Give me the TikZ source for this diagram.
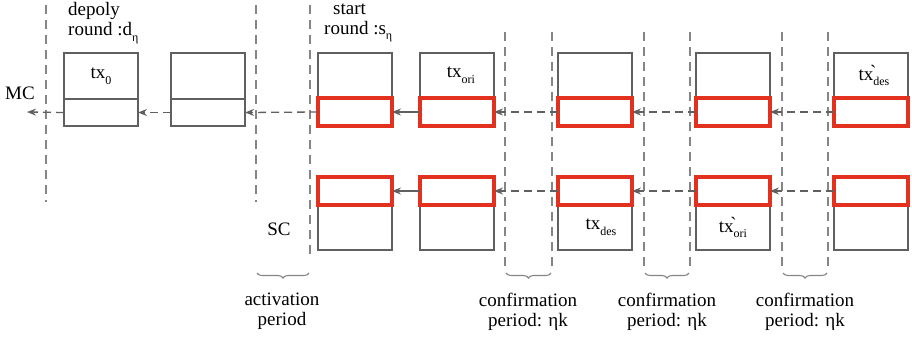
\documentclass[tikz,border=0pt]{standalone}
\usepackage{fontspec}
\setmainfont{Liberation Serif}
\newfontfamily\rawserif{Liberation Serif}
\usetikzlibrary{arrows.meta,decorations.pathreplacing}
\definecolor{bgray}{HTML}{606060}
\definecolor{dgray}{HTML}{858585}
\definecolor{rred}{HTML}{E2321F}
\newcommand{\mysub}[1]{\raisebox{-0.3em}{\fontsize{12}{12}\selectfont #1}}
\newcommand{\mygr}{\llap{\raisebox{0.1em}{\rawserif\symbol{96}}\kern-3pt}}
\begin{document}
\begin{tikzpicture}[x=1pt,y=-1pt,
  font=\fontsize{19}{20}\selectfont,
  cellg/.style={draw=bgray, line width=1.8pt, inner sep=0pt, outer sep=0pt, minimum width=74pt, anchor=north west},
  cellr/.style={draw=rred, line width=3.8pt, inner sep=0pt, outer sep=0pt, minimum width=74pt, minimum height=28pt, anchor=north west},
  vline/.style={dgray, line width=1.3pt, dash pattern=on 9pt off 6pt},
  conn/.style={bgray, line width=1.3pt, dash pattern=on 8pt off 5pt, -{Stealth[length=9pt,width=7pt]}},
  sconn/.style={bgray, line width=1.3pt, -{Stealth[length=9pt,width=7pt]}},
  brc/.style={dgray, line width=1.1pt, decorate, decoration={brace, mirror, amplitude=5pt}},
  lbl/.style={inner sep=0pt, align=center}
]
\useasboundingbox (0,0) rectangle (912,338);

% vertical dashed lines
\draw[vline] (46,5) -- (46,202);
\draw[vline] (256,5) -- (256,202);
\draw[vline] (310,5) -- (310,258);
\foreach \xa/\xb in {505/552, 644/690, 782/828}{
  \draw[vline] (\xa,32) -- (\xa,268);
  \draw[vline] (\xb,32) -- (\xb,268);
}

% top row upper cells
\node[cellg, minimum height=46pt] (u1) at (64,53) {\raisebox{-0.2em}{tx\mysub{0}}};
\node[cellg, minimum height=46pt] (u2) at (171,53) {};
\node[cellg, minimum height=45pt] (u3) at (318,53) {};
\node[cellg, minimum height=45pt] (u4) at (420,53) {\hspace*{8pt}\raisebox{-0.2em}{tx\mysub{ori}}};
\node[cellg, minimum height=45pt] (u5) at (558,53) {};
\node[cellg, minimum height=45pt] (u6) at (696,53) {};
\node[cellg, minimum height=45pt] (u7) at (834,53) {\hspace*{6pt}\raisebox{-0.1em}{tx\mygr\mysub{des}}};

% top row lower cells
\node[cellg, minimum height=27pt] (l1) at (64,99) {};
\node[cellg, minimum height=27pt] (l2) at (171,99) {};
\node[cellr] (l3) at (318,98) {};
\node[cellr] (l4) at (420,98) {};
\node[cellr] (l5) at (558,98) {};
\node[cellr] (l6) at (696,98) {};
\node[cellr] (l7) at (834,98) {};

% bottom row
\node[cellg, minimum height=45pt] (b3) at (318,205) {};
\node[cellg, minimum height=45pt] (b4) at (420,205) {};
\node[cellg, minimum height=45pt] (b5) at (558,205) {\hspace*{12pt}\raisebox{-0.2em}{tx\mysub{des}}};
\node[cellg, minimum height=45pt] (b6) at (696,205) {\raisebox{-0.2em}{tx\mygr\mysub{ori}}};
\node[cellg, minimum height=45pt] (b7) at (834,205) {};
\node[cellr] (r3) at (318,177) {};
\node[cellr] (r4) at (420,177) {};
\node[cellr] (r5) at (558,177) {};
\node[cellr] (r6) at (696,177) {};
\node[cellr] (r7) at (834,177) {};

% connectors top
\coordinate (mcend) at (27,112);
\draw[conn] (l1.west) -- (mcend);
\draw[conn] (l2.west) -- (l1.east);
\draw[conn] (l3.west) -- (l2.east);
\draw[sconn] (l4.west) -- (l3.east);
\draw[conn] (l5.west) -- (l4.east);
\draw[conn] (l6.west) -- (l5.east);
\draw[conn] (l7.west) -- (l6.east);
% connectors bottom
\draw[sconn] (r4.west) -- (r3.east);
\draw[conn] (r5.west) -- (r4.east);
\draw[conn] (r6.west) -- (r5.east);
\draw[conn] (r7.west) -- (r6.east);

% braces
\draw[brc] (257,273) -- (309,273);
\draw[brc] (506,273) -- (551,273);
\draw[brc] (645,273) -- (689,273);
\draw[brc] (783,273) -- (827,273);

% labels
\node[lbl] (mc) at (20,93) {MC};
\node[lbl] (sc) at (279,229) {SC};
\node[lbl, align=left, anchor=west] (dep) at (68,23) {depoly\\round :d\mysub{η}};
\node[lbl, align=left, anchor=west] (st) at (324,23) {\hspace*{9pt}start\\round :s\mysub{η}};
\node[lbl] (act) at (282,311) {activation\\period};
\node[lbl] (cf1) at (528,312) {confirmation\\period: ηk};
\node[lbl] (cf2) at (667,312) {confirmation\\period: ηk};
\node[lbl] (cf3) at (805,312) {confirmation\\period: ηk};
\end{tikzpicture}
\end{document}
